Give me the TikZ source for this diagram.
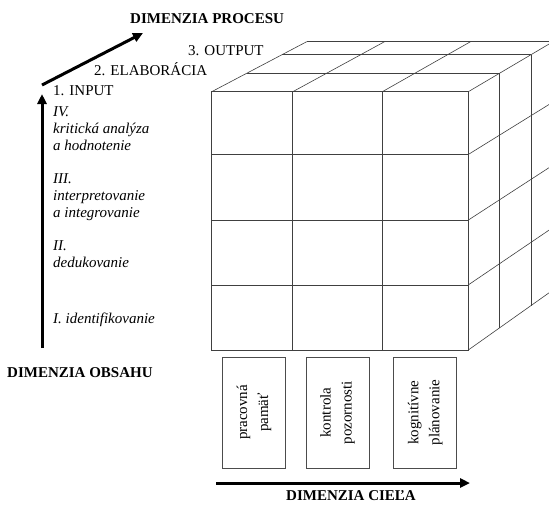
\documentclass[tikz,border=0pt]{standalone}
\usepackage{fontspec}
\setmainfont{Liberation Serif}
\usetikzlibrary{arrows.meta,positioning,calc}

\begin{document}
\begin{tikzpicture}[
        x=1pt, y=-1pt,
        grid/.style={draw=black!75, line width=0.6pt},
        box/.style={rectangle, draw=black!70, line width=0.6pt, minimum width=63pt, minimum height=111pt, inner sep=0pt},
        arrow/.style={-{Triangle[length=10pt,width=9pt]}, line width=3pt},
        dimlabel/.style={font=\fontsize{15}{17}\selectfont\bfseries, anchor=base west, inner sep=0pt},
        phase/.style={font=\fontsize{15}{17}\selectfont, anchor=base west, inner sep=0pt},
        level/.style={font=\fontsize{15}{17}\selectfont\itshape, align=left, anchor=north west, inner sep=0pt},
        goal/.style={rotate=90, align=center, font=\fontsize{15}{21}\selectfont, inner sep=0pt}
    ]
        \useasboundingbox (0,0) rectangle (549,504);

        % Cube corners
        \coordinate (ftl) at (211.7,91.7);
        \coordinate (ftr) at (468.3,91.7);
        \coordinate (fbl) at (211.7,350);
        \coordinate (fbr) at (468.3,350);
        \coordinate (btl) at (306.7,41.7);
        \coordinate (btr) at (553,41.7);
        \coordinate (bbr) at (553,290);

        \begin{scope}
        \clip (0,0) rectangle (549,504);
        % front face
        \draw[grid] (ftl) rectangle (fbr);
        \foreach \c in {0.316,0.665}
            \draw[grid] ($(ftl)!\c!(ftr)$) -- ($(fbl)!\c!(fbr)$);
        \foreach \r in {0.243,0.497,0.748}
            \draw[grid] ($(ftl)!\r!(fbl)$) -- ($(ftr)!\r!(fbr)$);

        % top face
        \foreach \c in {0,0.316,0.665,1}
            \draw[grid] ($(ftl)!\c!(ftr)$) -- ($(btl)!\c!(btr)$);
        \foreach \t in {0.37,0.74,1}
            \draw[grid] ($(ftl)!\t!(btl)$) -- ($(ftr)!\t!(btr)$);

        % right face
        \foreach \t in {0.37,0.74,1}
            \draw[grid] ($(ftr)!\t!(btr)$) -- ($(fbr)!\t!(bbr)$);
        \foreach \r in {0.243,0.497,0.748,1}
            \draw[grid] ($(ftr)!\r!(fbr)$) -- ($(btr)!\r!(bbr)$);
        \end{scope}

        % Process dimension
        \coordinate (proc start) at (42,85);
        \coordinate (proc end) at (143,33);
        \draw[arrow] (proc start) -- (proc end);
        \node[dimlabel] (proc) at (130,23) {DIMENZIA PROCESU};
        \node[phase] (output) at (188,55) {3. OUTPUT};
        \node[phase] (elab) at (94,75) {2. ELABORÁCIA};
        \node[phase] (input) at (53,95) {1. INPUT};

        % Content dimension
        \coordinate (obsah start) at (42,348);
        \coordinate (obsah end) at (42,94);
        \draw[arrow] (obsah start) -- (obsah end);
        \node[dimlabel] (obsah) at (7,377) {DIMENZIA OBSAHU};
        \node[level] (lvl4) at (53,106) {IV.\\kritická analýza\\a hodnotenie};
        \node[level] (lvl3) at (53,173.3) {III.\\interpretovanie\\a integrovanie};
        \node[level] (lvl2) at (53,240) {II.\\dedukovanie};
        \node[level, anchor=base west] (lvl1) at (53,323) {I. identifikovanie};

        % Goal dimension
        \node[box] (mem) at (254,412.5) {};
        \node[box] (attn) [right=20pt of mem] {};
        \node[box] (plan) [right=24pt of attn] {};
        \node[goal] at (mem) {pracovná\\pamäť};
        \node[goal] at (attn) {kontrola\\pozornosti};
        \node[goal] at (plan) {kognitívne\\plánovanie};

        \coordinate (ciel start) at (216,483);
        \coordinate (ciel end) at (470,483);
        \draw[arrow] (ciel start) -- (ciel end);
        \node[dimlabel] (ciel) at (286,500) {DIMENZIA CIEĽA};

    \end{tikzpicture}
\end{document}
